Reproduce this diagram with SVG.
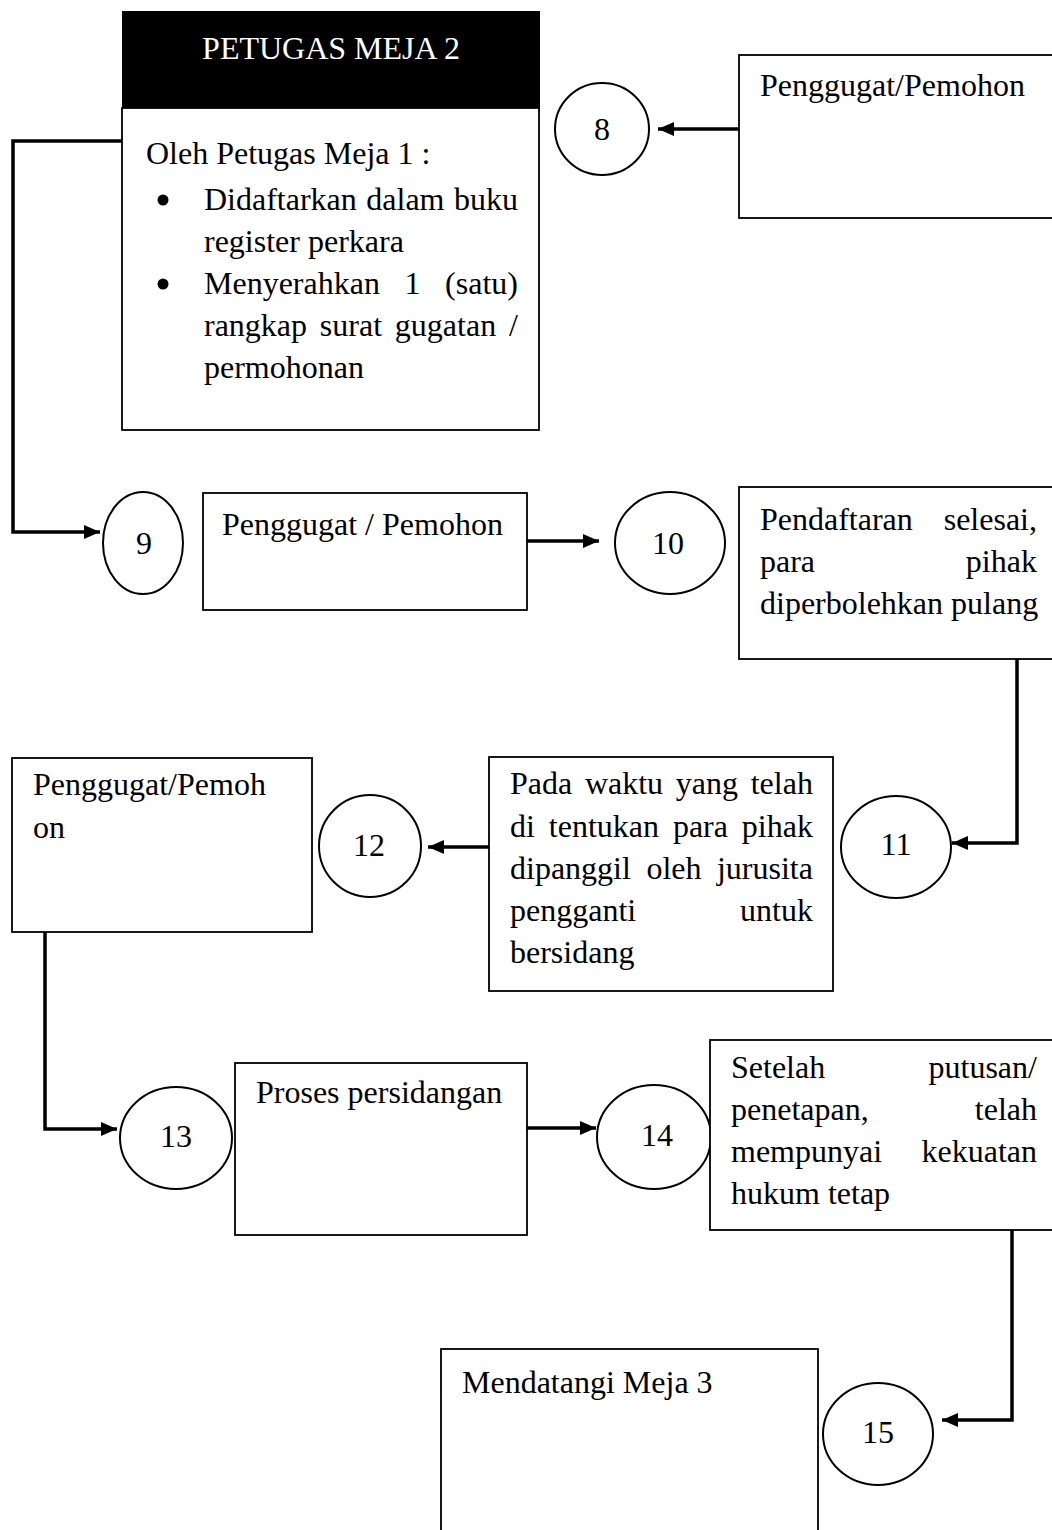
<svg xmlns="http://www.w3.org/2000/svg" width="1052" height="1530" viewBox="0 0 1052 1530">
<style>
  text { font-family: "Liberation Serif", "Times New Roman", serif; font-size: 32px; fill: #000; }
  .box { fill: #fff; stroke: #000; stroke-width: 1.8; }
  .num { fill: #fff; stroke: #000; stroke-width: 2; }
  .c { text-anchor: middle; }
  .conn { fill: none; stroke: #000; stroke-width: 3.5; }
  .hdr { fill: #fff; text-anchor: middle; }
</style>
<defs>
  <marker id="ah" markerUnits="userSpaceOnUse" markerWidth="16" markerHeight="14" refX="16" refY="7" orient="auto">
    <path d="M0,0 L16,7 L0,14 z" fill="#000"/>
  </marker>
</defs>
<rect width="1052" height="1530" fill="#fff"/>

<g id="connectors">
  <path class="conn" d="M739,129 H658" marker-end="url(#ah)"/>
  <path class="conn" d="M122,141 H13 V532 H100" marker-end="url(#ah)"/>
  <path class="conn" d="M527,541 H599" marker-end="url(#ah)"/>
  <path class="conn" d="M1017,657 V843 H952" marker-end="url(#ah)"/>
  <path class="conn" d="M489,847 H428" marker-end="url(#ah)"/>
  <path class="conn" d="M45,932 V1129 H117" marker-end="url(#ah)"/>
  <path class="conn" d="M527,1128 H596" marker-end="url(#ah)"/>
  <path class="conn" d="M1012,1230 V1420 H942" marker-end="url(#ah)"/>
</g>

<g id="meja2">
  <rect x="122" y="11" width="418" height="100" fill="#000"/>
  <text class="hdr" x="331" y="59">PETUGAS MEJA 2</text>
  <rect class="box" x="122" y="108" width="417" height="322"/>
  <text x="146" y="164">Oleh Petugas Meja 1 :</text>
  <circle cx="163" cy="200" r="5.5" fill="#000"/>
  <circle cx="163" cy="284" r="5.5" fill="#000"/>
  <text x="204" y="210" word-spacing="1.5">Didaftarkan dalam buku</text>
  <text x="204" y="252">register perkara</text>
  <text x="204" y="294" word-spacing="16.6">Menyerahkan 1 (satu)</text>
  <text x="204" y="336" word-spacing="4.8">rangkap surat gugatan /</text>
  <text x="204" y="378">permohonan</text>
</g>

<g id="box8">
  <rect class="box" x="739" y="55" width="330" height="163"/>
  <text x="760" y="96">Penggugat/Pemohon</text>
</g>
<g id="n8">
  <ellipse class="num" cx="602" cy="129" rx="47" ry="46"/>
  <text class="c" x="602" y="140">8</text>
</g>

<g id="n9">
  <ellipse class="num" cx="143" cy="543" rx="40" ry="51"/>
  <text class="c" x="144" y="554">9</text>
</g>
<g id="box9">
  <rect class="box" x="203" y="493" width="324" height="117"/>
  <text x="222" y="535">Penggugat / Pemohon</text>
</g>
<g id="n10">
  <ellipse class="num" cx="670" cy="543" rx="55" ry="51"/>
  <text class="c" x="668" y="554">10</text>
</g>
<g id="box10">
  <rect class="box" x="739" y="487" width="330" height="172"/>
  <text x="760" y="530" word-spacing="22.9">Pendaftaran selesai,</text>
  <text x="760" y="572" word-spacing="142.8">para pihak</text>
  <text x="760" y="614">diperbolehkan pulang</text>
</g>

<g id="n11">
  <ellipse class="num" cx="896" cy="847" rx="55" ry="51"/>
  <text class="c" x="896" y="855">11</text>
</g>
<g id="boxPada">
  <rect class="box" x="489" y="757" width="344" height="234"/>
  <text x="510" y="794" word-spacing="4.7">Pada waktu yang telah</text>
  <text x="510" y="837" word-spacing="5.9">di tentukan para pihak</text>
  <text x="510" y="879" word-spacing="7.5">dipanggil oleh jurusita</text>
  <text x="510" y="921" word-spacing="95.9">pengganti untuk</text>
  <text x="510" y="963">bersidang</text>
</g>
<g id="n12">
  <ellipse class="num" cx="370" cy="846" rx="51" ry="51"/>
  <text class="c" x="369" y="856">12</text>
</g>
<g id="box12">
  <rect class="box" x="12" y="758" width="300" height="174"/>
  <text x="33" y="795">Penggugat/Pemoh</text>
  <text x="33" y="838">on</text>
</g>

<g id="n13">
  <ellipse class="num" cx="176" cy="1138" rx="56" ry="51"/>
  <text class="c" x="176" y="1147">13</text>
</g>
<g id="box13">
  <rect class="box" x="235" y="1063" width="292" height="172"/>
  <text x="256" y="1103">Proses persidangan</text>
</g>
<g id="n14">
  <ellipse class="num" cx="654" cy="1137" rx="57" ry="52"/>
  <text class="c" x="657" y="1146">14</text>
</g>
<g id="box14">
  <rect class="box" x="710" y="1040" width="360" height="190"/>
  <text x="731" y="1078" word-spacing="95.3">Setelah putusan/</text>
  <text x="731" y="1120" word-spacing="98.1">penetapan, telah</text>
  <text x="731" y="1162" word-spacing="31.4">mempunyai kekuatan</text>
  <text x="731" y="1204">hukum tetap</text>
</g>

<g id="n15">
  <ellipse class="num" cx="878" cy="1434" rx="55" ry="51"/>
  <text class="c" x="878" y="1443">15</text>
</g>
<g id="box15">
  <rect class="box" x="441" y="1349" width="377" height="200"/>
  <text x="462" y="1393">Mendatangi Meja 3</text>
</g>
</svg>
